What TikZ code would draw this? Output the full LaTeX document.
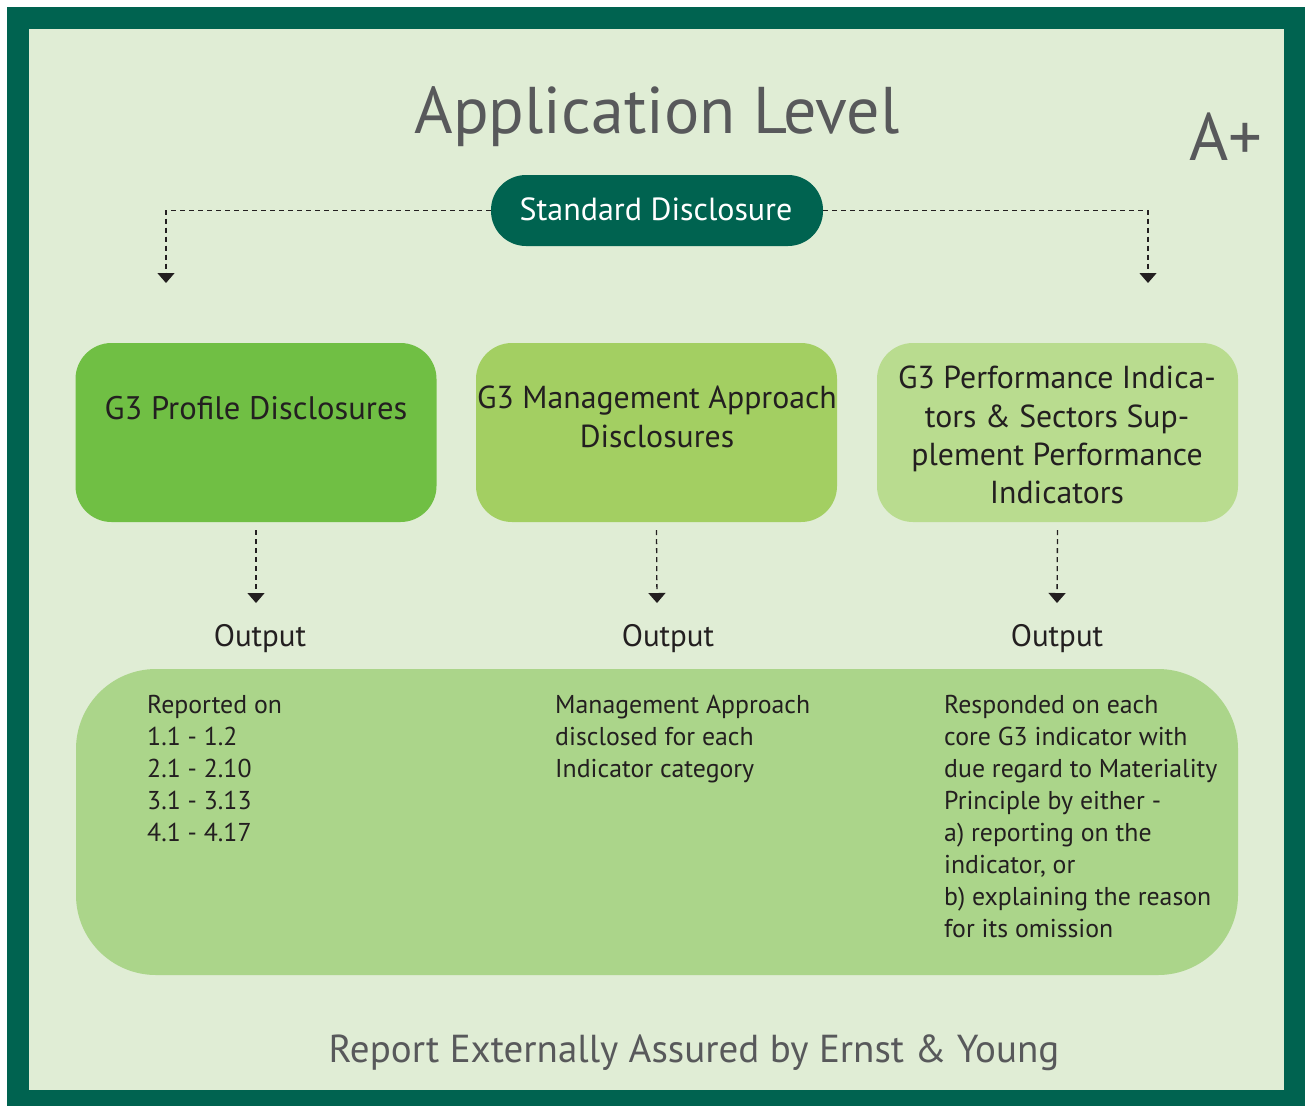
\documentclass[tikz,border=0pt]{standalone}
\usepackage{fontspec}
\setmainfont{PT Sans}
\usetikzlibrary{arrows.meta}
\definecolor{dkgreen}{HTML}{006350}
\definecolor{bgc}{HTML}{E0EDD5}
\definecolor{gA}{HTML}{70BF44}
\definecolor{gB}{HTML}{A3CF62}
\definecolor{gC}{HTML}{B9DC8F}
\definecolor{gD}{HTML}{ABD58A}
\definecolor{greytxt}{HTML}{58595B}
\definecolor{ink}{HTML}{231F20}
\tikzset{
  box/.style={rounded corners=36pt, minimum width=361pt, minimum height=179pt, inner sep=0pt},
  boxtext/.style={font=\fontsize{31.8}{38.2}\selectfont, text=ink, align=center, inner sep=0pt},
  bodytext/.style={font=\fontsize{25.8}{32}\selectfont, text=ink, align=left, inner sep=0pt, anchor=north west},
  dashline/.style={draw=ink, line width=1.3pt, dash pattern=on 5pt off 4pt},
  arrowline/.style={dashline, -{Triangle[width=17pt,length=10pt]}},
  outtext/.style={font=\fontsize{31}{38}\selectfont, text=ink, inner sep=0pt, anchor=base}
}
\begin{document}
\begin{tikzpicture}[x=1pt,y=-1pt]
\useasboundingbox (0,0) rectangle (1305,1106);
\fill[white] (0,0) rectangle (1305,1106);
\fill[dkgreen] (7,7) rectangle (1305,1106);
\fill[bgc] (29,29) rectangle (1284,1090);

\node[anchor=base, text=greytxt, inner sep=0pt, font=\fontsize{66}{76}\selectfont] (title) at (657,133) {Application Level};
\node[anchor=base, text=greytxt, inner sep=0pt, font=\fontsize{67}{76}\selectfont] (aplus) at (1226,160) {A+};

\node[fill=dkgreen, rounded corners=35pt, minimum width=332pt, minimum height=71pt, inner sep=0pt] (sd) at (657,210.5) {};
\node[anchor=base, text=white, inner sep=0pt, font=\fontsize{32}{38}\selectfont] (sdt) at (656,220) {Standard Disclosure};

\node[box, fill=gA] (b1) at (256,432.5) {};
\node[box, fill=gB] (b2) at (656.5,432.5) {};
\node[box, fill=gC] (b3) at (1057.5,432.5) {};

\node[boxtext, anchor=base, font=\fontsize{32.6}{38}\selectfont] (t1) at (256,419) {G3 Profile Disclosures};
\node[boxtext, anchor=north] (t2) at (657,386) {G3 Management Approach\\Disclosures};
\node[boxtext, anchor=north] (t3) at (1057,366) {G3 Performance Indica-\\tors \& Sectors Sup-\\plement Performance\\Indicators};

\coordinate (l1) at (166,283);
\coordinate (r1) at (1148,283);
\draw[arrowline] (sd.west) -| (l1);
\draw[arrowline] (sd.east) -| (r1);

\coordinate (d1) at (256,603);
\coordinate (d2) at (657,603);
\coordinate (d3) at (1057,603);
\draw[arrowline] ([yshift=-8pt]b1.south) -- (d1);
\draw[arrowline] ([yshift=-8pt]b2.south) -- (d2);
\draw[arrowline] ([yshift=-8pt]b3.south) -- (d3);

\node[outtext] (o1) at (260,646) {Output};
\node[outtext] (o2) at (668,646) {Output};
\node[outtext] (o3) at (1057,646) {Output};

\node[fill=gD, rounded corners=80pt, minimum width=1162pt, minimum height=306pt, inner sep=0pt] (big) at (657,822) {};

\node[bodytext] (c1) at (147,695) {Reported on\\1.1 - 1.2\\2.1 - 2.10\\3.1 - 3.13\\4.1 - 4.17};
\node[bodytext] (c2) at (555,695) {Management Approach\\disclosed for each\\Indicator category};
\node[bodytext] (c3) at (944,695) {Responded on each\\core G3 indicator with\\due regard to Materiality\\Principle by either -\\a) reporting on the\\indicator, or\\b) explaining the reason\\for its omission};

\node[anchor=base, text=greytxt, inner sep=0pt, font=\fontsize{39}{48}\selectfont] (foot) at (694,1062) {Report Externally Assured by Ernst \& Young};
\end{tikzpicture}
\end{document}
